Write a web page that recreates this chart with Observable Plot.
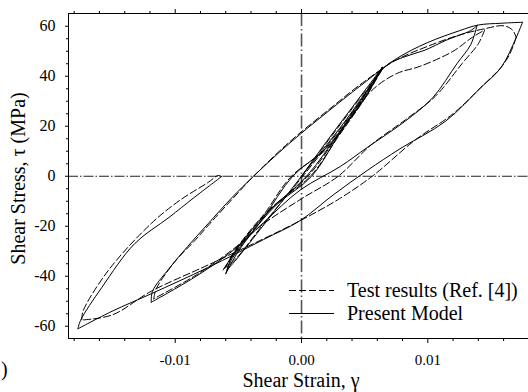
<!DOCTYPE html>
<html>
<head>
<meta charset="utf-8">
<script src="https://cdn.jsdelivr.net/npm/d3@7"></script>
<script src="https://cdn.jsdelivr.net/npm/@observablehq/plot@0.6"></script>
<style>
  html, body { margin: 0; padding: 0; background: #fff; }
  #chart { width: 528px; height: 392px; overflow: hidden; }
  #chart svg, #chart svg text { font-family: 'Liberation Serif', 'Times New Roman', serif !important; font-variant: normal !important; }
</style>
</head>
<body>
<div id="chart"></div>
<script>
// ---- Tick values ----
const xMajorTicks = [-0.01, 0, 0.01];
const xMinorTicks = [-0.018, -0.016, -0.014, -0.012, -0.008, -0.006, -0.004, -0.002,
                     0.002, 0.004, 0.006, 0.008, 0.012, 0.014, 0.016];
const yMajorTicks = [-60, -40, -20, 0, 20, 40, 60];
const yMinorTicks = [-55, -50, -45, -35, -30, -25, -15, -10, -5, 5, 10, 15, 25, 30, 35, 45, 50, 55];
const zeroLine = [0];

// ---- Present Model (solid), branch by branch: [strain, stress MPa] ----
const modelInitial = [[0, 0], [0.002, 14], [0.004, 27.5], [0.0064, 43.6]];
const modelUnload1 = [[0.0064, 43.6], [0.0055, 36.5], [0.004, 25], [0.002, 11.5], [-0.0007, 0], [-0.003, -16.5], [-0.005, -30], [-0.006, -39]];
const modelReload1 = [[-0.006, -39], [-0.0055, -33], [-0.004, -23], [-0.002, -11.5], [0.0008, 0], [0.003, 17], [0.005, 31.5], [0.0064, 43.6]];
const modelUnload1b = [[0.0064, 43.6], [0.005, 33], [0.003, 19], [0, 0], [-0.003, -19.5], [-0.0052, -33.5], [-0.0059, -37.5]];
const modelReload2 = [[-0.0059, -37.5], [-0.0055, -32], [-0.003, -16], [0.0004, 0], [0.003, 17.5], [0.005, 31], [0.0066, 43.8], [0.008, 47.5], [0.0097, 50.3], [0.0115, 54.5], [0.0134, 58.3], [0.0139, 60.3]];
const modelUnload2 = [[0.0139, 60.3], [0.0134, 52.7], [0.0123, 45], [0.0104, 31.5], [0.0082, 22], [0.0052, 11.5], [0.0031, 4], [-0.0001, -5.5], [-0.003, -18.5], [-0.0055, -30], [-0.0085, -40.5], [-0.0119, -50.4]];
const modelReload3 = [[-0.0119, -50.4], [-0.0118, -46], [-0.0105, -37], [-0.009, -28], [-0.0074, -19], [-0.0055, -8.5], [-0.0038, 0], [-0.001, 13], [0.002, 25.5], [0.005, 37.5], [0.0075, 47], [0.01, 53.5], [0.0125, 58.2], [0.014, 60.5], [0.0158, 61.2], [0.0175, 61.6]];
const modelUnload3 = [[0.0175, 61.6], [0.017, 55.5], [0.0158, 43.5], [0.0142, 35.5], [0.0114, 22], [0.0078, 11], [0.0052, 2.3], [0.0025, -7.5], [-0.0001, -17.7], [-0.003, -25.3], [-0.0074, -36.5], [-0.0119, -47], [-0.015, -54], [-0.0177, -61]];
const modelFinal = [[-0.0177, -61], [-0.0175, -57.7], [-0.0158, -44.4], [-0.0132, -26.9], [-0.0105, -16.5], [-0.0085, -8.5], [-0.0063, 0]];

// ---- Test results (dashed) ----
const testInitial = [[0, 0], [0.002, 13.5], [0.004, 27], [0.0064, 43]];
const testUnload1 = [[0.0064, 43], [0.0055, 36], [0.004, 24.5], [0.002, 11], [-0.0008, 0], [-0.003, -15.5], [-0.005, -28.5], [-0.0062, -37.5]];
const testReload1 = [[-0.0062, -37.5], [-0.0057, -33.5], [-0.004, -22.5], [-0.002, -11], [0.0007, 0], [0.003, 16.5], [0.005, 31], [0.0064, 43]];
const testUnload1b = [[0.0064, 43], [0.005, 32.5], [0.003, 18.5], [0.0001, 0], [-0.003, -19], [-0.0052, -33], [-0.006, -36.5]];
const testReload2 = [[-0.006, -36.5], [-0.0055, -31.5], [-0.003, -15.5], [0.0005, 0], [0.003, 17], [0.0055, 34], [0.0075, 41], [0.0094, 44], [0.012, 50], [0.0135, 55.5], [0.0145, 58.5]];
const testUnload2 = [[0.0145, 58.5], [0.014, 53], [0.0127, 45], [0.0106, 32], [0.0082, 22.5], [0.0055, 12.5], [0.0029, 0], [0, -9], [-0.003, -19], [-0.0055, -29.5], [-0.0085, -40], [-0.0117, -49]];
const testReload3 = [[-0.0117, -49], [-0.0115, -45], [-0.01, -34], [-0.0085, -26], [-0.007, -17.5], [-0.005, -6.5], [-0.0038, 0], [-0.001, 13.5], [0.002, 26], [0.005, 38], [0.0075, 46.5], [0.01, 52], [0.0125, 56.5], [0.0145, 59], [0.016, 60.2], [0.0167, 58.5], [0.017, 55.5]];
const testUnload3 = [[0.017, 55.5], [0.0165, 49], [0.0158, 43.6], [0.0143, 36], [0.012, 25], [0.009, 14.5], [0.0056, 0], [0.003, -9], [0, -17.5], [-0.003, -25], [-0.0074, -35.5], [-0.0119, -46], [-0.015, -55.5], [-0.0174, -57.5]];
const testFinal = [[-0.0174, -57.5], [-0.0173, -54], [-0.0153, -37.7], [-0.0119, -18.9], [-0.0096, -9.5], [-0.0074, -2.5], [-0.0066, 0.3], [-0.0063, -0.2]];

const legendLabels = ["Test results (Ref. [4])", "Present Model"];
const panelTag = ")";

function rows(branches) {
  const out = [];
  branches.forEach((b, i) => b.forEach(([x, y]) => out.push({x, y, branch: i})));
  return out;
}
const modelRows = rows([modelInitial, modelUnload1, modelReload1, modelUnload1b, modelReload2, modelUnload2, modelReload3, modelUnload3, modelFinal]);
const testRows = rows([testInitial, testUnload1, testReload1, testUnload1b, testReload2, testUnload2, testReload3, testUnload3, testFinal]);

const SERIF = "'Liberation Serif', 'Times New Roman', serif";
const W = 528, H = 392, ML = 68, MR = -1, MT = 13, MB = 54;
const fmtX = d => d.toFixed(2);
const fmtY = d => String(d);
const blank = () => "";

const chart = Plot.plot({
  width: W, height: H,
  marginLeft: ML, marginRight: MR, marginTop: MT, marginBottom: MB,
  x: {domain: [-0.01845, 0.01805], axis: null},
  y: {domain: [-64.9, 65.1], axis: null},
  style: {fontFamily: SERIF, background: "#fff", color: "#000", overflow: "hidden"},
  marks: [
    Plot.ruleX(zeroLine, {x: d => d, stroke: "#555", strokeWidth: 1.6, strokeDasharray: "13,3,1.5,3"}),
    Plot.ruleY(zeroLine, {y: d => d, stroke: "#222", strokeWidth: 1, strokeDasharray: "10,2,1.5,2"}),
    Plot.line(testRows, {x: "x", y: "y", z: "branch", stroke: "#000", strokeWidth: 1, strokeDasharray: "7,3", curve: "catmull-rom"}),
    Plot.line(modelRows, {x: "x", y: "y", z: "branch", stroke: "#000", strokeWidth: 1, curve: "catmull-rom"}),
    Plot.frame({stroke: "#000", strokeWidth: 1}),
    Plot.axisY({ticks: yMajorTicks, tickSize: 3, tickPadding: 10, fontSize: 16, fontFamily: SERIF, tickFormat: fmtY, label: null}),
    Plot.axisY({ticks: yMinorTicks, tickSize: 2, tickFormat: blank, label: null}),
    Plot.axisX({anchor: "bottom", ticks: xMajorTicks, tickSize: 5, tickPadding: 11, fontSize: 15, fontFamily: SERIF, tickFormat: fmtX, label: null}),
    Plot.axisX({anchor: "bottom", ticks: xMinorTicks, tickSize: 3, tickFormat: blank, label: null}),
    Plot.axisX({anchor: "top", ticks: xMajorTicks, tickSize: 5, tickFormat: blank, label: null}),
    Plot.axisX({anchor: "top", ticks: xMinorTicks, tickSize: 3, tickFormat: blank, label: null}),
    Plot.text(["Shear Stress, τ (MPa)"], {frameAnchor: "left", dx: -50, dy: 2.5, rotate: -90, text: d => d, fontSize: 20, fontFamily: SERIF, textAnchor: "middle", lineAnchor: "middle"}),
    Plot.text(["Shear Strain, γ"], {frameAnchor: "bottom", dx: 2, dy: 48, text: d => d, fontSize: 20, fontFamily: SERIF, textAnchor: "middle", lineAnchor: "bottom"})
  ]
});

// Legend and panel tag, added on top of the plot
const svg = d3.select(chart);
const lg = svg.append("g").attr("font-family", SERIF).attr("font-size", 20).attr("fill", "#000").attr("text-anchor", "start");
const legendY = [290.5, 313.5];
legendLabels.forEach((label, i) => {
  lg.append("line").attr("x1", 289).attr("x2", 334).attr("y1", legendY[i]).attr("y2", legendY[i])
    .attr("stroke", "#000").attr("stroke-width", 1).attr("stroke-dasharray", i === 0 ? "7,3" : null);
  lg.append("text").attr("x", 347).attr("y", legendY[i] + 6.2).attr("text-anchor", "start").text(label);
});
svg.append("text").attr("x", 1).attr("y", 376).attr("text-anchor", "start")
  .attr("font-family", SERIF).attr("font-size", 20).text(panelTag);

document.getElementById("chart").appendChild(chart);
</script>
</body>
</html>
